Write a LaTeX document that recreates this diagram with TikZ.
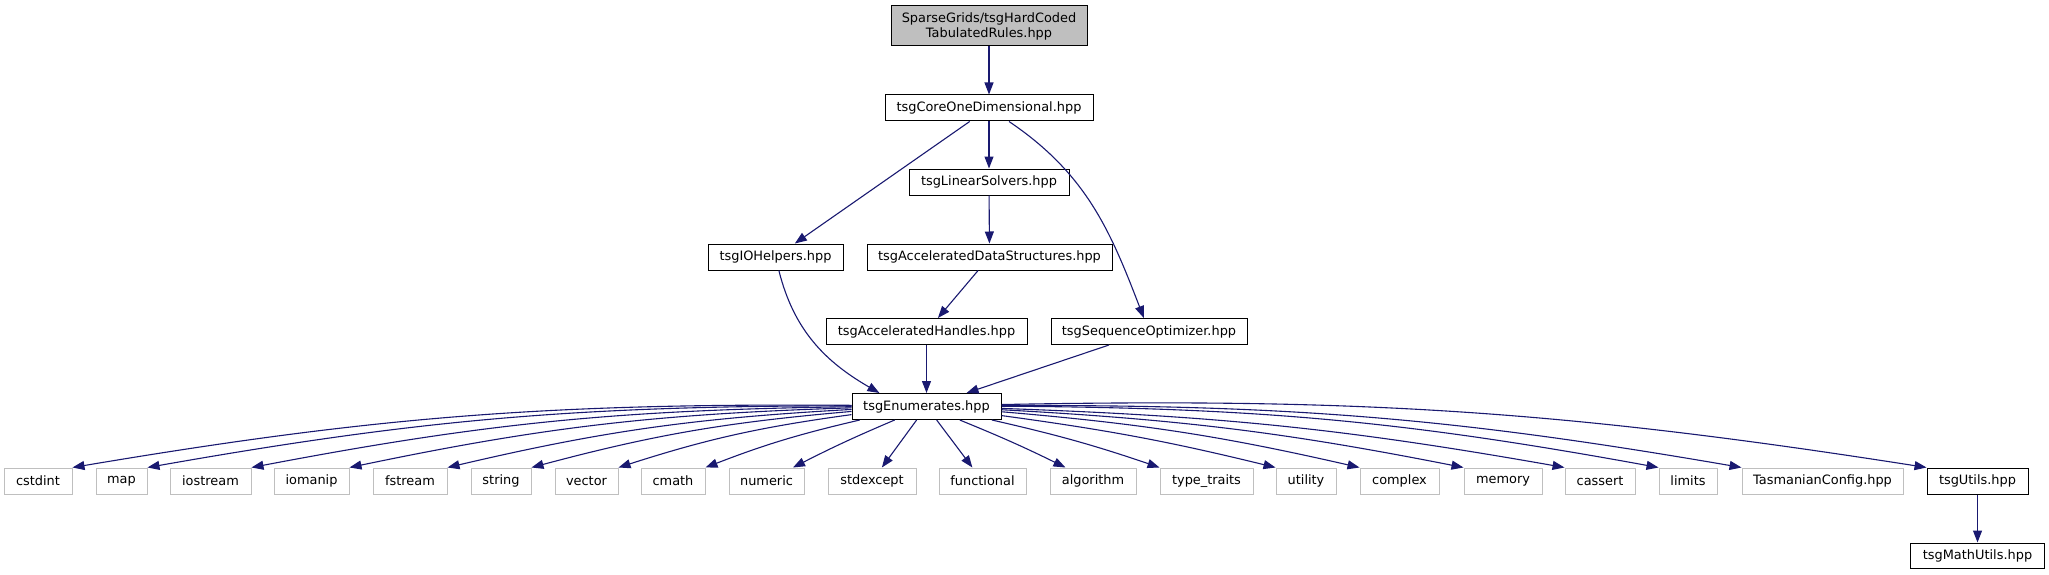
\documentclass[tikz,border=0pt]{standalone}
\usepackage{fontspec}
\setmainfont{DejaVu Sans}
\usepackage{xcolor}
\usetikzlibrary{arrows.meta}

\definecolor{edgeblue}{HTML}{191970}
\definecolor{extgray}{HTML}{BFBFBF}

\begin{document}
\begin{tikzpicture}[
x=1pt, y=-1pt,
file/.style={
rectangle,
draw=black,
line width=1pt,
minimum height=26pt,
inner sep=0pt,
align=center,
font=\fontsize{12.9}{15}\selectfont
},
extfile/.style={
file,
draw=extgray
},
arrow/.style={
-{Triangle[length=12pt,width=9pt]},
draw=edgeblue,
line width=1.1pt
}
]
\useasboundingbox (0,0) rectangle (2049,575);

\node[file, fill=extgray, minimum width=196pt, minimum height=40pt] (top) at (989,26) {SparseGrids/tsgHardCoded\\TabulatedRules.hpp};
\node[file, minimum width=208pt] (core) at (989,108) {tsgCoreOneDimensional.hpp};
\node[file, minimum width=160pt] (linsolv) at (989,182) {tsgLinearSolvers.hpp};
\node[file, minimum width=135pt] (iohelp) at (775.5,257) {tsgIOHelpers.hpp};
\node[file, minimum width=245pt] (ads) at (989.5,257) {tsgAcceleratedDataStructures.hpp};
\node[file, minimum width=201pt] (acchand) at (926.5,331.5) {tsgAcceleratedHandles.hpp};
\node[file, minimum width=196pt] (seqopt) at (1149,331.5) {tsgSequenceOptimizer.hpp};
\node[file, minimum width=149pt] (enum) at (926.5,406.5) {tsgEnumerates.hpp};

% system and config headers
\node[extfile, minimum width=68pt] (cstdint) at (38,481) {cstdint};
\node[extfile, minimum width=51pt] (map) at (121.5,481) {map};
\node[extfile, minimum width=81pt] (iostream) at (210.5,481) {iostream};
\node[extfile, minimum width=75pt] (iomanip) at (311.5,481) {iomanip};
\node[extfile, minimum width=74pt] (fstream) at (410,481) {fstream};
\node[extfile, minimum width=60pt] (string) at (501,481) {string};
\node[extfile, minimum width=63pt] (vector) at (586.5,481) {vector};
\node[extfile, minimum width=64pt] (cmath) at (673,481) {cmath};
\node[extfile, minimum width=75pt] (numeric) at (766.5,481) {numeric};
\node[extfile, minimum width=88pt] (stdexcept) at (872,481) {stdexcept};
\node[extfile, minimum width=87pt] (functional) at (982.5,481) {functional};
\node[extfile, minimum width=86pt] (algorithm) at (1093,481) {algorithm};
\node[extfile, minimum width=93pt] (typetraits) at (1206.5,481) {type\_traits};
\node[extfile, minimum width=60pt] (utility) at (1306,481) {utility};
\node[extfile, minimum width=79pt] (complex) at (1399.5,481) {complex};
\node[extfile, minimum width=78pt] (memory) at (1503,481) {memory};
\node[extfile, minimum width=70pt] (cassert) at (1600,481) {cassert};
\node[extfile, minimum width=58pt] (limits) at (1688,481) {limits};
\node[extfile, minimum width=161pt] (tasconfig) at (1822.5,481) {TasmanianConfig.hpp};
\node[file, minimum width=101pt] (utils) at (1977.5,481) {tsgUtils.hpp};
\node[file, minimum width=134pt, minimum height=25pt] (mathutils) at (1977.5,555.5) {tsgMathUtils.hpp};

\draw[arrow] (top) -- (core);
\draw[arrow] (core) -- (iohelp);
\draw[arrow] (core) -- (linsolv);
\draw[arrow] (core) to[out=-34, in=111] (seqopt);
\draw[arrow] (linsolv) -- (ads);
\draw[arrow] (ads) -- (acchand);
\draw[arrow] (iohelp) to[out=-76, in=150] (enum.164);
\draw[arrow] (acchand) -- (enum);
\draw[arrow] (seqopt) -- (enum);

\draw[arrow] (enum) to[bend right=5] (cstdint.north east);
\draw[arrow] (enum) to[bend right=5] (map.north east);
\draw[arrow] (enum) to[bend right=5] (iostream.north east);
\draw[arrow] (enum) to[bend right=5] (iomanip.north east);
\draw[arrow] (enum) to[bend right=5] (fstream.north east);
\draw[arrow] (enum) to[bend right=5] (string.north east);
\draw[arrow] (enum) to[bend right=5] (vector.north east);
\draw[arrow] (enum) to[bend right=4] (cmath.north east);
\draw[arrow] (enum) to[bend right=2] (numeric);
\draw[arrow] (enum) -- (stdexcept);
\draw[arrow] (enum) -- (functional);
\draw[arrow] (enum) to[bend left=2] (algorithm);
\draw[arrow] (enum) to[bend left=3] (typetraits.north west);
\draw[arrow] (enum) to[bend left=3] (utility.north west);
\draw[arrow] (enum) to[bend left=4] (complex.north west);
\draw[arrow] (enum) to[bend left=4] (memory.north west);
\draw[arrow] (enum) to[bend left=4] (cassert.north west);
\draw[arrow] (enum) to[bend left=5] (limits.north west);
\draw[arrow] (enum) to[bend left=5] (tasconfig.north west);
\draw[arrow] (enum) to[bend left=5] (utils.north west);
\draw[arrow] (utils) -- (mathutils);

\end{tikzpicture}
\end{document}
